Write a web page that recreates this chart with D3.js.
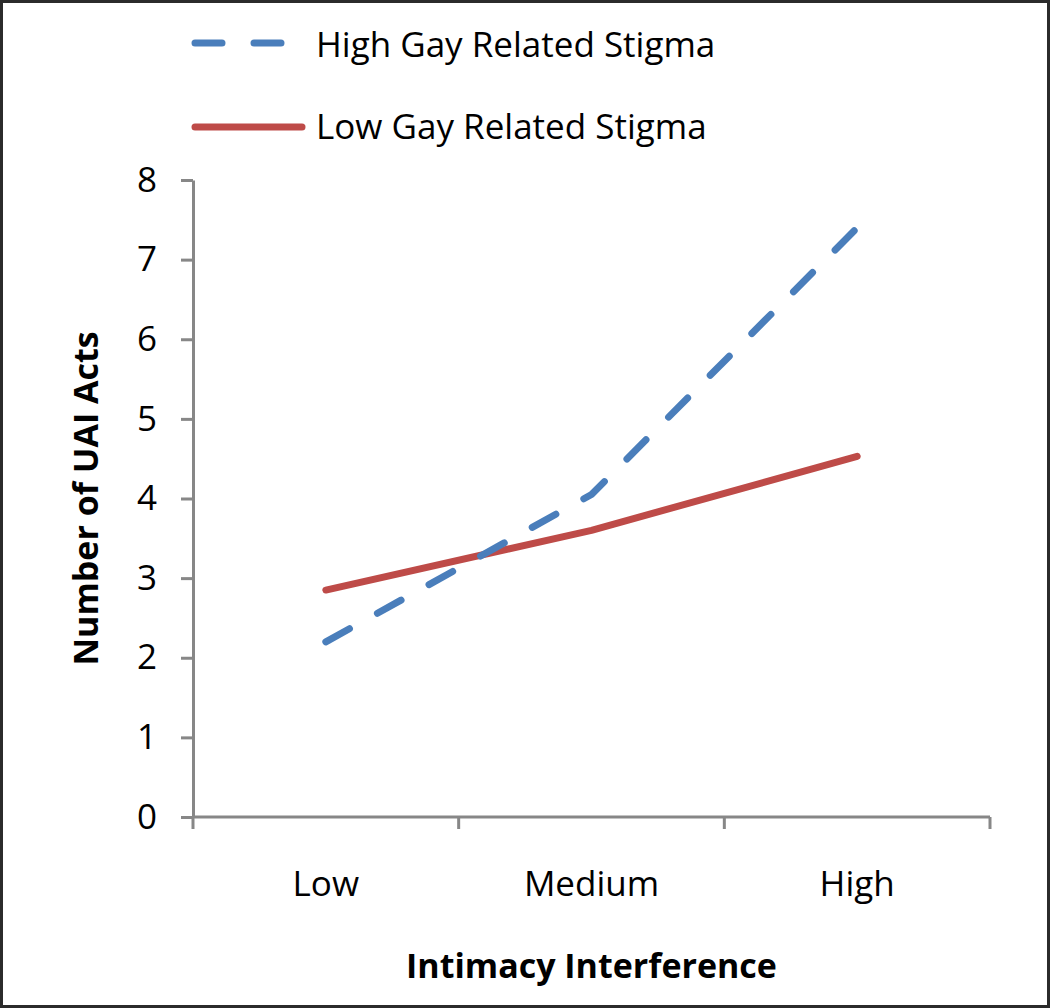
<!DOCTYPE html>
<html>
<head>
<style>
body { margin: 0; padding: 0; background: #fff; }
svg text { font-family: "Open Sans", sans-serif; fill: #000; }
</style>
<script src="https://d3js.org/d3.v7.min.js"></script>
</head>
<body>
<svg id="chart" width="1050" height="1008"></svg>
<script>
const categories = ["Low", "Medium", "High"];
const highStigma = [2.2, 4.05, 7.4];
const lowStigma = [2.85, 3.6, 4.53];
const yTicks = [0, 1, 2, 3, 4, 5, 6, 7, 8];
const seriesNames = ["High Gay Related Stigma", "Low Gay Related Stigma"];

const svg = d3.select("#chart");

// outer frame
svg.append("rect")
  .attr("x", 1.5).attr("y", 1.5)
  .attr("width", 1047).attr("height", 1005)
  .attr("fill", "#fff")
  .attr("stroke", "#2b2b2b")
  .attr("stroke-width", 3);

const plotLeft = 193, plotRight = 990, plotTop = 180, plotBottom = 817;

const x = d3.scaleBand().domain(categories).range([plotLeft, plotRight]);
const y = d3.scaleLinear().domain([0, 8]).range([plotBottom, plotTop]);

// y axis
const yAxis = svg.append("g")
  .attr("transform", `translate(${plotLeft},0)`)
  .call(d3.axisLeft(y).tickValues(yTicks).tickSize(12).tickPadding(24).tickSizeOuter(0));
yAxis.select(".domain").attr("stroke", "#878787").attr("stroke-width", 3);
yAxis.selectAll(".tick line").attr("stroke", "#878787").attr("stroke-width", 3);
yAxis.selectAll(".tick text").attr("font-size", 35).attr("font-family", "Open Sans").attr("fill", "#000");

// x axis: ticks at band edges
const xAxis = svg.append("g")
  .attr("transform", `translate(0,${plotBottom})`);
xAxis.append("line")
  .attr("x1", plotLeft).attr("x2", plotRight)
  .attr("stroke", "#878787").attr("stroke-width", 3);
const edges = categories.map(c => x(c)).concat([x(categories[categories.length - 1]) + x.bandwidth()]);
xAxis.selectAll("line.tk").data(edges).enter().append("line")
  .attr("class", "tk")
  .attr("x1", d => d).attr("x2", d => d)
  .attr("y1", 0).attr("y2", 12)
  .attr("stroke", "#878787").attr("stroke-width", 3);
xAxis.selectAll("text").data(categories).enter().append("text")
  .attr("x", d => x(d) + x.bandwidth() / 2)
  .attr("y", 79)
  .attr("text-anchor", "middle")
  .attr("font-size", 35)
  .text(d => d);

// axis titles
svg.append("text")
  .attr("transform", `translate(98,${(plotTop + plotBottom) / 2}) rotate(-90)`)
  .attr("text-anchor", "middle")
  .attr("font-size", 34)
  .attr("font-weight", "bold")
  .text("Number of UAI Acts");

svg.append("text")
  .attr("x", (plotLeft + plotRight) / 2)
  .attr("y", 978)
  .attr("text-anchor", "middle")
  .attr("font-size", 34)
  .attr("font-weight", "bold")
  .text("Intimacy Interference");

// lines
const line = d3.line()
  .x((d, i) => x(categories[i]) + x.bandwidth() / 2)
  .y(d => y(d));

svg.append("path")
  .datum(lowStigma)
  .attr("d", line)
  .attr("fill", "none")
  .attr("stroke", "#be4b48")
  .attr("stroke-width", 7)
  .attr("stroke-linecap", "round")
  .attr("stroke-linejoin", "round");

svg.append("path")
  .datum(highStigma)
  .attr("d", line)
  .attr("fill", "none")
  .attr("stroke", "#4a7ebb")
  .attr("stroke-width", 7)
  .attr("stroke-dasharray", "27,32")
  .attr("stroke-linecap", "round")
  .attr("stroke-linejoin", "round");

// legend
const legend = svg.append("g");
legend.append("line")
  .attr("x1", 195).attr("x2", 281).attr("y1", 43).attr("y2", 43)
  .attr("stroke", "#4a7ebb").attr("stroke-width", 7)
  .attr("stroke-dasharray", "27,32").attr("stroke-linecap", "round");
legend.append("line")
  .attr("x1", 195).attr("x2", 302).attr("y1", 127).attr("y2", 127)
  .attr("stroke", "#be4b48").attr("stroke-width", 7).attr("stroke-linecap", "round");
legend.append("text")
  .attr("x", 316).attr("y", 57)
  .attr("font-size", 35)
  .text(seriesNames[0]);
legend.append("text")
  .attr("x", 316).attr("y", 139)
  .attr("font-size", 35)
  .text(seriesNames[1]);
</script>
</body>
</html>
